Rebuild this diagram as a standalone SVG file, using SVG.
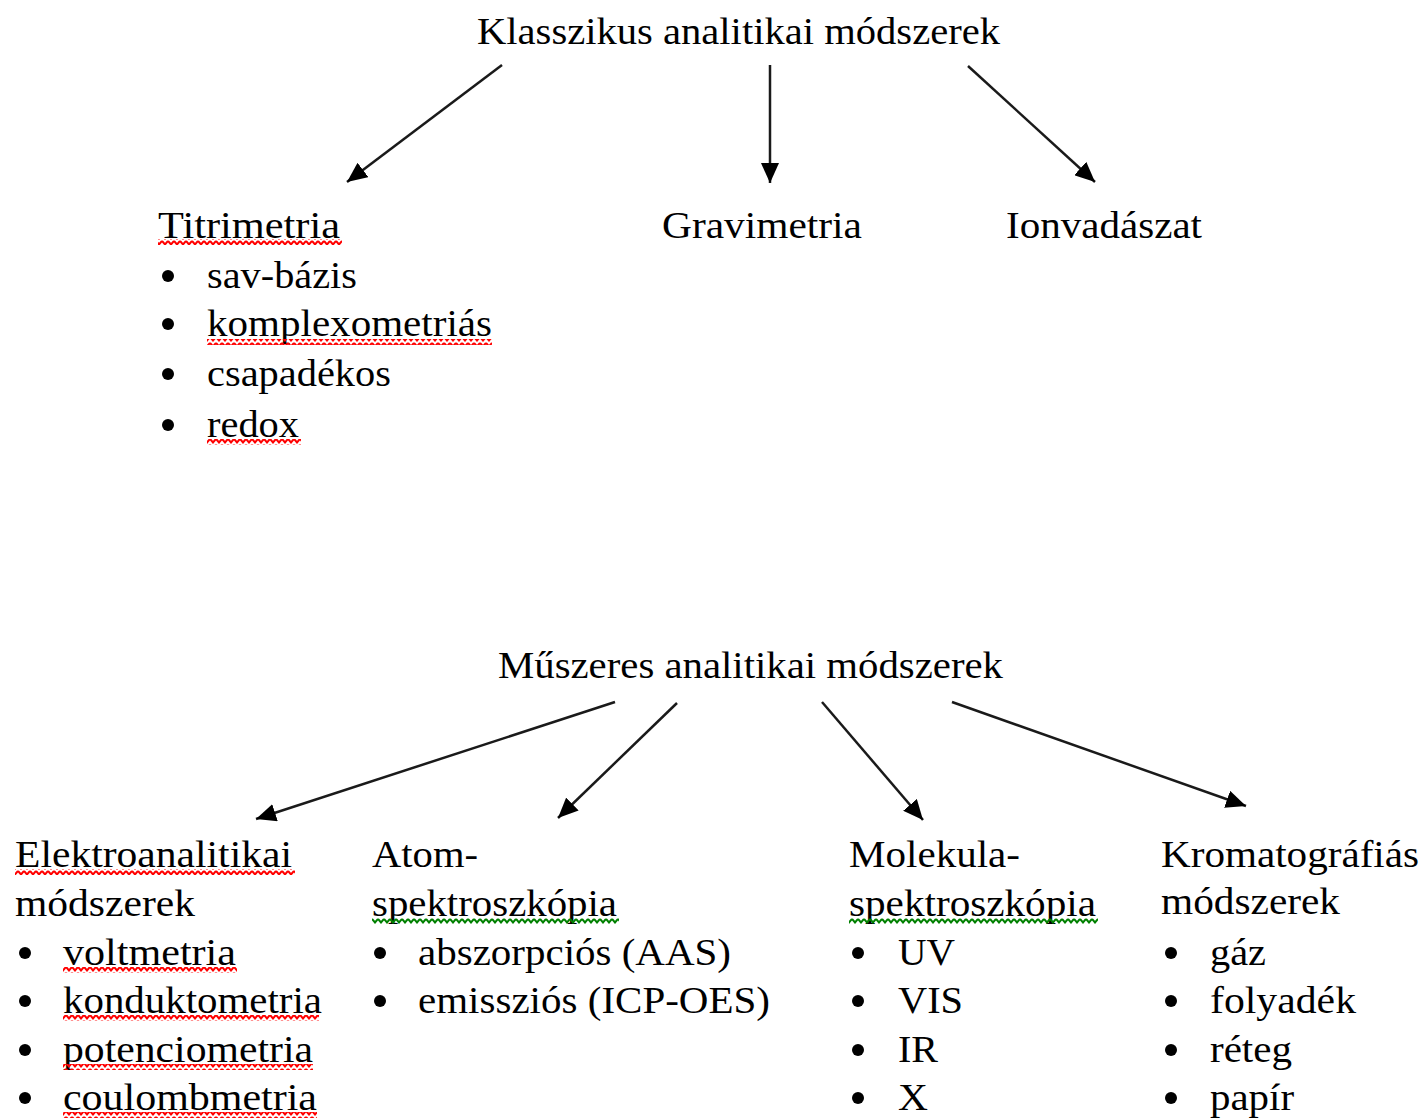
<svg xmlns="http://www.w3.org/2000/svg" width="1426" height="1119" viewBox="0 0 1426 1119">
<style>
text{font-family:"Liberation Serif","Times New Roman",serif;font-size:38px;fill:#000}
.cn line{stroke:#1a1a1a;stroke-width:2.5;marker-end:url(#ah)}
.b{fill:#000}
</style>
<defs>
<marker id="ah" markerUnits="userSpaceOnUse" markerWidth="22" markerHeight="18" viewBox="0 0 22 18" refX="20" refY="9" orient="auto">
<path d="M0,0 L20,9 L0,18 Z" fill="#000"/>
</marker>
<pattern id="sqR" patternUnits="userSpaceOnUse" width="6" height="6">
<polyline points="0,1 3,4.5 6,1" fill="none" stroke="#f00" stroke-width="2"/>
</pattern>
<pattern id="sqG" patternUnits="userSpaceOnUse" width="6" height="6">
<polyline points="0,1 3,4.5 6,1" fill="none" stroke="#008000" stroke-width="2"/>
</pattern>
</defs>
<rect width="1426" height="1119" fill="#fff"/>

<g class="cn" id="connectors">
<line x1="502" y1="65" x2="347" y2="182"/>
<line x1="770" y1="65" x2="770" y2="183"/>
<line x1="968" y1="66" x2="1095" y2="182"/>
<line x1="615" y1="702" x2="256" y2="819"/>
<line x1="677" y1="703" x2="558" y2="818"/>
<line x1="822" y1="702" x2="923" y2="820"/>
<line x1="952" y1="702" x2="1246" y2="806"/>
</g>

<g id="klasszikus">
<text x="477" y="44" textLength="523" lengthAdjust="spacingAndGlyphs">Klasszikus analitikai módszerek</text>
</g>

<g id="titrimetria">
<text x="158" y="238" textLength="182" lengthAdjust="spacingAndGlyphs">Titrimetria</text>
<rect x="158" y="239" width="184" height="6" fill="url(#sqR)"/>
<circle class="b" cx="168" cy="276" r="6"/>
<text x="207" y="288" textLength="150" lengthAdjust="spacingAndGlyphs">sav-bázis</text>
<circle class="b" cx="168" cy="324" r="6"/>
<text x="207" y="336" textLength="285" lengthAdjust="spacingAndGlyphs">komplexometriás</text>
<rect x="207" y="339" width="285" height="6" fill="url(#sqR)"/>
<circle class="b" cx="168" cy="374" r="6"/>
<text x="207" y="386" textLength="184" lengthAdjust="spacingAndGlyphs">csapadékos</text>
<circle class="b" cx="168" cy="425" r="6"/>
<text x="207" y="437" textLength="92" lengthAdjust="spacingAndGlyphs">redox</text>
<rect x="207" y="439" width="94" height="6" fill="url(#sqR)"/>
</g>

<g id="gravimetria">
<text x="662" y="238" textLength="200" lengthAdjust="spacingAndGlyphs">Gravimetria</text>
</g>

<g id="ionvadaszat">
<text x="1006" y="238" textLength="196" lengthAdjust="spacingAndGlyphs">Ionvadászat</text>
</g>

<g id="muszeres">
<text x="498" y="678" textLength="505" lengthAdjust="spacingAndGlyphs">Műszeres analitikai módszerek</text>
</g>

<g id="elektroanalitikai">
<text x="15" y="867" textLength="277" lengthAdjust="spacingAndGlyphs">Elektroanalitikai</text>
<rect x="15" y="869" width="280" height="6" fill="url(#sqR)"/>
<text x="15" y="916" textLength="180" lengthAdjust="spacingAndGlyphs">módszerek</text>
<circle class="b" cx="25" cy="953" r="6"/>
<text x="63" y="965" textLength="173" lengthAdjust="spacingAndGlyphs">voltmetria</text>
<rect x="63" y="967" width="174" height="6" fill="url(#sqR)"/>
<circle class="b" cx="25" cy="1001" r="6"/>
<text x="63" y="1013" textLength="259" lengthAdjust="spacingAndGlyphs">konduktometria</text>
<rect x="63" y="1015" width="256" height="6" fill="url(#sqR)"/>
<circle class="b" cx="25" cy="1050" r="6"/>
<text x="63" y="1062" textLength="250" lengthAdjust="spacingAndGlyphs">potenciometria</text>
<rect x="63" y="1064" width="250" height="6" fill="url(#sqR)"/>
<circle class="b" cx="25" cy="1098" r="6"/>
<text x="63" y="1110" textLength="254" lengthAdjust="spacingAndGlyphs">coulombmetria</text>
<rect x="63" y="1112" width="254" height="6" fill="url(#sqR)"/>
</g>

<g id="atomspektroszkopia">
<text x="372" y="867" textLength="106" lengthAdjust="spacingAndGlyphs">Atom-</text>
<text x="372" y="916" textLength="245" lengthAdjust="spacingAndGlyphs">spektroszkópia</text>
<rect x="372" y="918" width="247" height="6" fill="url(#sqG)"/>
<circle class="b" cx="380" cy="953" r="6"/>
<text x="418" y="965" textLength="313" lengthAdjust="spacingAndGlyphs">abszorpciós (AAS)</text>
<circle class="b" cx="380" cy="1001" r="6"/>
<text x="418" y="1013" textLength="352" lengthAdjust="spacingAndGlyphs">emissziós (ICP-OES)</text>
</g>

<g id="molekulaspektroszkopia">
<text x="849" y="867" textLength="171" lengthAdjust="spacingAndGlyphs">Molekula-</text>
<text x="849" y="916" textLength="247" lengthAdjust="spacingAndGlyphs">spektroszkópia</text>
<rect x="849" y="918" width="249" height="6" fill="url(#sqG)"/>
<circle class="b" cx="858" cy="953" r="6"/>
<text x="898" y="965" textLength="57" lengthAdjust="spacingAndGlyphs">UV</text>
<circle class="b" cx="858" cy="1001" r="6"/>
<text x="898" y="1013" textLength="65" lengthAdjust="spacingAndGlyphs">VIS</text>
<circle class="b" cx="858" cy="1050" r="6"/>
<text x="898" y="1062" textLength="40" lengthAdjust="spacingAndGlyphs">IR</text>
<circle class="b" cx="858" cy="1098" r="6"/>
<text x="898" y="1110" textLength="30" lengthAdjust="spacingAndGlyphs">X</text>
</g>

<g id="kromatografias">
<text x="1161" y="867" textLength="258" lengthAdjust="spacingAndGlyphs">Kromatográfiás</text>
<text x="1161" y="914" textLength="179" lengthAdjust="spacingAndGlyphs">módszerek</text>
<circle class="b" cx="1171" cy="953" r="6"/>
<text x="1210" y="965" textLength="56" lengthAdjust="spacingAndGlyphs">gáz</text>
<circle class="b" cx="1171" cy="1001" r="6"/>
<text x="1210" y="1013" textLength="146" lengthAdjust="spacingAndGlyphs">folyadék</text>
<circle class="b" cx="1171" cy="1050" r="6"/>
<text x="1210" y="1062" textLength="82" lengthAdjust="spacingAndGlyphs">réteg</text>
<circle class="b" cx="1171" cy="1098" r="6"/>
<text x="1210" y="1110" textLength="84" lengthAdjust="spacingAndGlyphs">papír</text>
</g>
</svg>
